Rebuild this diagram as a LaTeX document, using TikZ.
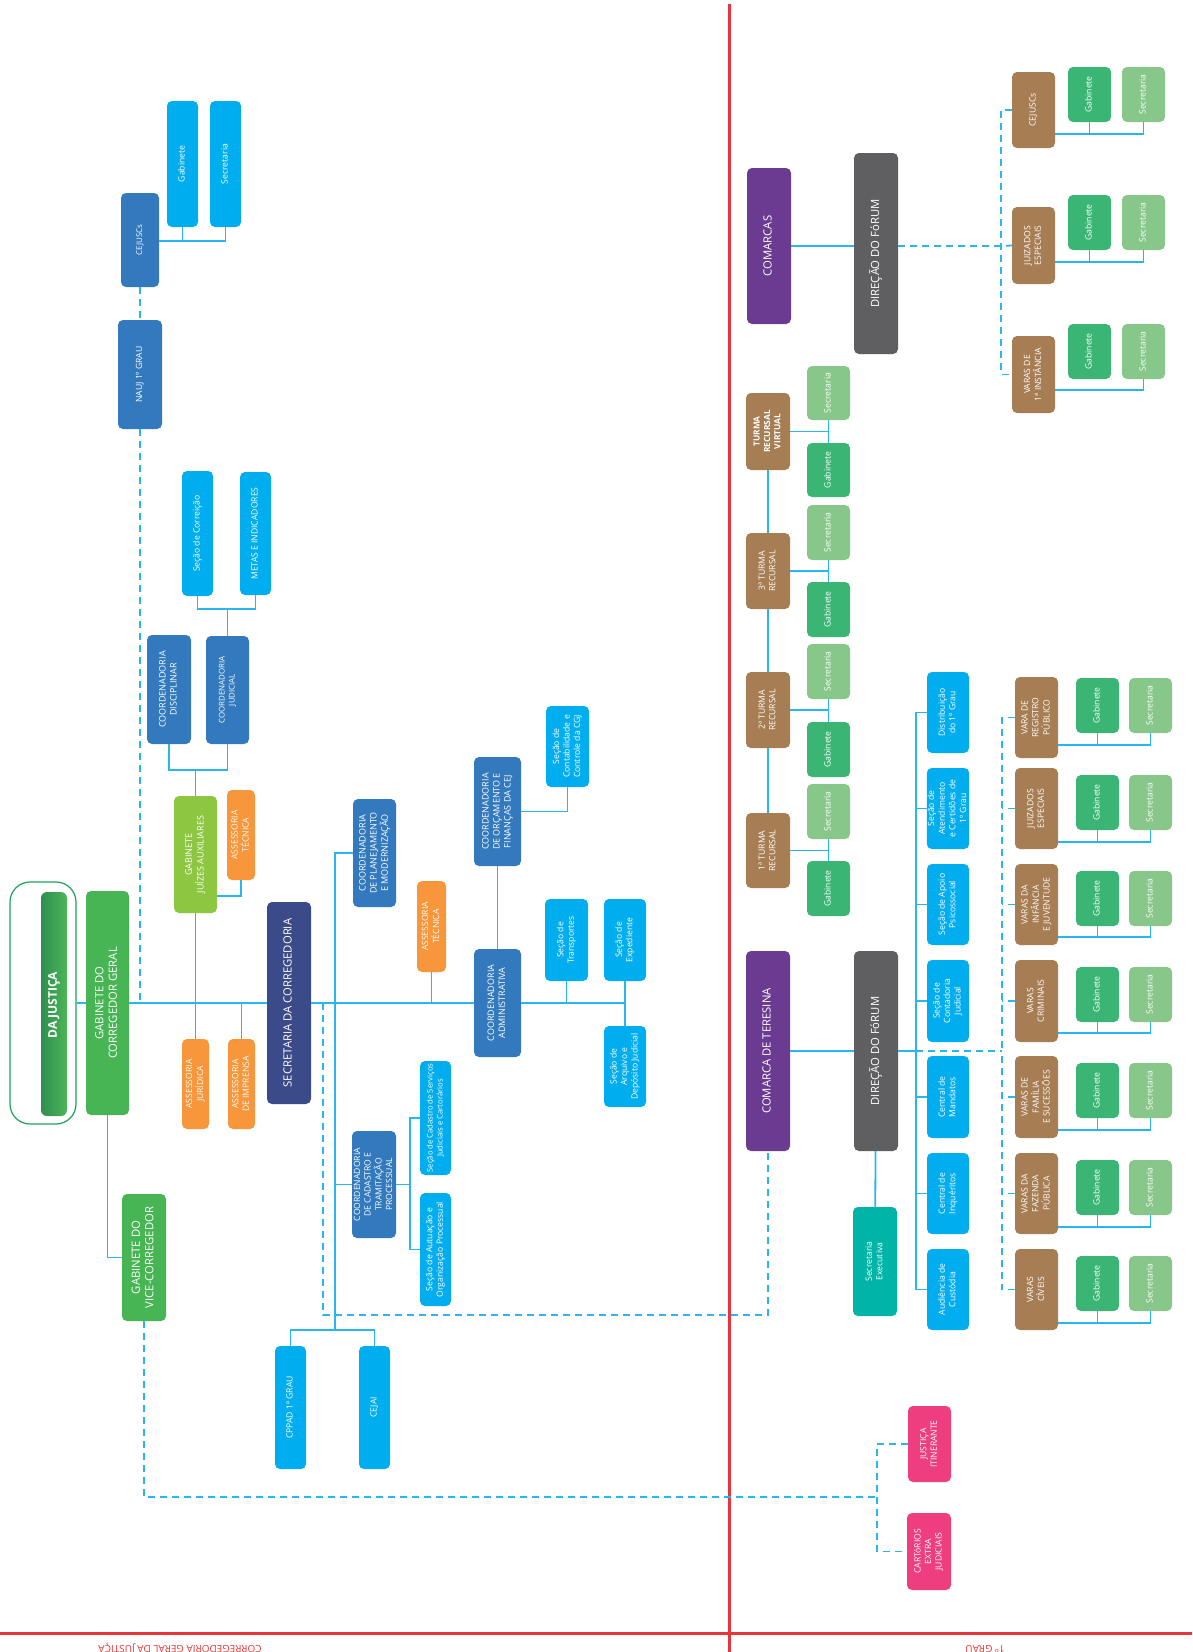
\documentclass[tikz,border=0pt]{standalone}
\usepackage{fontspec}
\setmainfont{Open Sans}
\usepackage{graphicx}
\usetikzlibrary{calc}
\definecolor{cyanc}{HTML}{00AEEF}
\definecolor{dbc}{HTML}{3379BD}
\definecolor{navyc}{HTML}{3B4A89}
\definecolor{gcgc}{HTML}{47B553}
\definecolor{gjac}{HTML}{8DC641}
\definecolor{orgc}{HTML}{F7963A}
\definecolor{purc}{HTML}{6B3B92}
\definecolor{grayc}{HTML}{5F5F61}
\definecolor{brownc}{HTML}{A77D54}
\definecolor{gabc}{HTML}{3BB574}
\definecolor{secc}{HTML}{87C78A}
\definecolor{tealc}{HTML}{00B5A7}
\definecolor{pinkc}{HTML}{EE3E80}
\definecolor{redc}{HTML}{E9343B}
\definecolor{lineb}{HTML}{29B5EE}
\definecolor{djg}{HTML}{1BA35B}
\definecolor{djdark}{HTML}{2E8F4F}
\definecolor{djlight}{HTML}{4DB557}
\tikzset{
 box/.style={rounded corners=5pt, inner sep=0pt, outer sep=0pt, text=white},
 conn/.style={draw=lineb, line width=1.8pt},
 dshline/.style={draw=lineb, line width=1.8pt, dash pattern=on 7pt off 5pt},
 fs/.style={font=\fontsize{7.7}{10}\selectfont},
 f7/.style={font=\fontsize{7.9}{10}\selectfont},
 f8/.style={font=\fontsize{8.6}{10.6}\selectfont},
 f8b/.style={font=\bfseries\fontsize{8.4}{10.4}\selectfont},
 f9/.style={font=\fontsize{9}{11}\selectfont},
 fcct/.style={font=\fontsize{8.6}{10.5}\selectfont},
 f11/.style={font=\fontsize{11.3}{13.5}\selectfont},
}
\newcommand\mybox[7]{\node[box,#6,minimum width={(#4)-(#2)},minimum height={(#5)-(#3)}] (#1) at ({((#2)+(#4))/2},{((#3)+(#5))/2}) {\rotatebox{90}{\begin{tabular}{@{}c@{}}#7\end{tabular}}};}
\newcommand\vgrpbase[9]{%
 \mybox{#1}{#2}{#3}{#2+43}{#3+#4}{fill=brownc,f8}{#9}
 \mybox{#1g}{#5}{#7}{#5+43}{#7+55}{fill=gabc,f8}{Gabinete}
 \mybox{#1s}{#6}{#7}{#6+43}{#7+55}{fill=secc,f8}{Secretaria}
 \coordinate (#1k) at ({#6+21.5},{#8});
 \draw[conn] (#1.east |- #1k) -- (#1k) -- (#1s.south);}
\newcommand\vgrp[9]{\vgrpbase{#1}{#2}{#3}{#4}{#5}{#6}{#7}{#8}{#9}\draw[conn] (#1g.south) -- (#1g.south |- #1k);}
\begin{document}
\begin{tikzpicture}[x=1pt,y=-1pt]
\useasboundingbox (0,0) rectangle (1192,1652);
\fill[white] (0,0) rectangle (1192,1652);

% red frame lines
\draw[redc, line width=3pt] (729,4) -- (729,1652);
\draw[redc, line width=3pt] (0,1633) -- (1192,1633);
\node[rotate=180, anchor=base, text=redc, font=\fontsize{10}{12}\selectfont, inner sep=0pt] (lbl1) at (180,1645) {CORREGEDORIA GERAL DA JUSTIÇA};
\node[rotate=180, anchor=base, text=redc, font=\fontsize{10}{12}\selectfont, inner sep=0pt] (lbl2) at (985,1645) {1º GRAU};

% DA JUSTICA
\node[draw=djg, line width=1.2pt, fill=white, rounded corners=20pt, minimum width=66, minimum height=242, inner sep=0pt] (dj) at (43,1003) {};
\shade[left color=djdark, right color=djlight, rounded corners=6pt] (41,892) rectangle (67,1116);
\node[rotate=90, text=white, font=\bfseries\fontsize{12}{14}\selectfont, inner sep=0pt] (djt) at (54,1005) {DA JUSTIÇA};

% left column boxes
\mybox{gcg}{86}{891}{129}{1115}{fill=gcgc,f11}{GABINETE DO\\CORREGEDOR GERAL}
\mybox{gja}{174}{796}{217}{913}{fill=gjac,f9}{GABINETE\\JUÍZES AUXILIARES}
\mybox{at1}{227}{790}{255}{880}{fill=orgc,f8}{ASSESSORIA\\TÉCNICA}
\mybox{ajur}{182}{1039}{209}{1129}{fill=orgc,f8}{ASSESSORIA\\JURÍDICA}
\mybox{aimp}{228}{1039}{255}{1129}{fill=orgc,f8}{ASSESSORIA\\DE IMPRENSA}
\mybox{sec}{267}{902}{311}{1104}{fill=navyc,f11}{SECRETARIA DA CORREGEDORIA}
\mybox{cdis}{147}{635}{191}{744}{fill=dbc,f9}{COORDENADORIA\\DISCIPLINAR}
\mybox{cjud}{206}{636}{249}{744}{fill=dbc,f7}{COORDENADORIA\\JUDICIAL}
\mybox{scor}{182}{471}{213}{596}{fill=cyanc,f8}{Seção de Correição}
\mybox{metas}{240}{472}{271}{595}{fill=cyanc,f8}{METAS E INDICADORES}
\mybox{nauj}{118}{320}{162}{429}{fill=dbc,f8}{NAUJ 1º GRAU}
\mybox{cejl}{121}{193}{159}{287}{fill=dbc,f7}{CEJUSCs}
\mybox{gabl}{167}{101}{198}{227}{fill=cyanc,f8}{Gabinete}
\mybox{secl}{210}{101}{241}{227}{fill=cyanc,f8}{Secretaria}
\mybox{pl}{353}{799}{396}{907}{fill=dbc,f9}{COORDENADORIA\\DE PLANEJAMENTO\\E MODERNIZAÇÃO}
\mybox{at2}{417}{881}{446}{972}{fill=orgc,f8}{ASSESSORIA\\TÉCNICA}
\mybox{corc}{474}{757}{521}{866}{fill=dbc,f9}{COORDENADORIA\\DE ORÇAMENTO E\\FINANÇAS DA CEJ}
\mybox{scont}{546}{706}{589}{787}{fill=cyanc,f8}{Seção de\\Contabilidade e\\Controle da CGJ}
\mybox{cadm}{474}{949}{521}{1057}{fill=dbc,f9}{COORDENADORIA\\ADMINISTRATIVA}
\mybox{stra}{545}{899}{588}{981}{fill=cyanc,f8}{Seção de\\Transportes}
\mybox{sexp}{604}{899}{646}{981}{fill=cyanc,f8}{Seção de\\Expediente}
\mybox{sarq}{604}{1026}{646}{1107}{fill=cyanc,f8}{Seção de\\Arquivo e\\Depósito Judicial}
\mybox{cct}{352}{1131}{396}{1238}{fill=dbc,fcct}{COORDENADORIA\\DE CADASTRO E\\TRAMITAÇÃO\\PROCESSUAL}
\mybox{scad}{420}{1061}{451}{1175}{fill=cyanc,fs}{Seção de Cadastro de Serviços\\Judiciais e Cartorários}
\mybox{saut}{420}{1193}{451}{1306}{fill=cyanc,f8}{Seção de Autuação e\\Organização Processual}
\mybox{cppad}{275}{1346}{306}{1469}{fill=cyanc,f8}{CPPAD 1º GRAU}
\mybox{cejai}{359}{1346}{390}{1469}{fill=cyanc,f8}{CEJAI}
\mybox{gvc}{122}{1194}{166}{1321}{fill=gcgc,f11}{GABINETE DO\\VICE-CORREGEDOR}
\mybox{jit}{908}{1406}{951}{1482}{fill=pinkc,f8}{JUSTIÇA\\ITINERANTE}
\mybox{cart}{907}{1513}{951}{1590}{fill=pinkc,f8}{CARTóRIOS\\EXTRA\\JUDICIAIS}

% right top
\mybox{com}{747}{168}{791}{324}{fill=purc,f11}{COMARCAS}
\mybox{dir1}{854}{153}{898}{354}{fill=grayc,f11}{DIREÇÃO DO FóRUM}
\vgrp{cejr}{1012}{72}{76}{1068}{1122}{67}{134}{CEJUSCs}
\vgrp{jer}{1012}{207}{77}{1068}{1122}{195}{262}{JUIZADOS\\ESPECIAIS}
\vgrpbase{v1i}{1012}{336}{77}{1068}{1122}{324}{390}{VARAS DE\\1ª INSTÂNCIA}

% turmas
\mybox{tv}{746}{393}{790}{470}{fill=brownc,f8b}{TURMA\\RECURSAL\\VIRTUAL}
\mybox{tvs}{807}{366}{850}{420}{fill=secc,f8}{Secretaria}
\mybox{tvg}{807}{443}{850}{497}{fill=gabc,f8}{Gabinete}
\mybox{tt3}{746}{533}{790}{609}{fill=brownc,f8}{3ª TURMA\\RECURSAL}
\mybox{tt3s}{807}{505}{850}{560}{fill=secc,f8}{Secretaria}
\mybox{tt3g}{807}{582}{850}{637}{fill=gabc,f8}{Gabinete}
\mybox{tt2}{746}{672}{790}{748}{fill=brownc,f8}{2ª TURMA\\RECURSAL}
\mybox{tt2s}{807}{644}{850}{699}{fill=secc,f8}{Secretaria}
\mybox{tt2g}{807}{722}{850}{777}{fill=gabc,f8}{Gabinete}
\mybox{tt1}{746}{813}{790}{888}{fill=brownc,f8}{1ª TURMA\\RECURSAL}
\mybox{tt1s}{807}{784}{850}{839}{fill=secc,f8}{Secretaria}
\mybox{tt1g}{807}{861}{850}{916}{fill=gabc,f8}{Gabinete}

% right bottom
\mybox{cter}{746}{951}{790}{1151}{fill=purc,f11}{COMARCA DE TERESINA}
\mybox{dir2}{854}{951}{898}{1151}{fill=grayc,f11}{DIREÇÃO DO FóRUM}
\mybox{sex}{853}{1207}{897}{1316}{fill=tealc,f8}{Secretaria\\Executiva}
\mybox{dist}{927}{672}{969}{753}{fill=cyanc,f8}{Distribuição\\do 1º Grau}
\mybox{satd}{927}{768}{969}{849}{fill=cyanc,f8}{Seção de\\Atendimento\\e Certidões de\\1º Grau}
\mybox{sapo}{927}{864}{969}{945}{fill=cyanc,f8}{Seção de Apoio\\Psicossocial}
\mybox{scon}{927}{960}{969}{1042}{fill=cyanc,f8}{Seção de\\Contadoria\\Judicial}
\mybox{cman}{927}{1056}{969}{1138}{fill=cyanc,f8}{Central de\\Mandatos}
\mybox{cinq}{927}{1153}{969}{1234}{fill=cyanc,f8}{Central de\\Inquéritos}
\mybox{aud}{927}{1249}{969}{1330}{fill=cyanc,f8}{Audiência de\\Custódia}
\vgrp{vreg}{1015}{677}{81}{1076}{1129}{678}{745}{VARA DE\\REGISTRO\\PÚBLICO}
\vgrp{vjes}{1015}{768}{81}{1076}{1129}{775}{842}{JUIZADOS\\ESPECIAIS}
\vgrp{vinf}{1015}{864}{81}{1076}{1129}{871}{937}{VARAS DA\\INFÂNCIA\\E JUVENTUDE}
\vgrp{vcri}{1015}{960}{82}{1076}{1129}{967}{1033}{VARAS\\CRIMINAIS}
\vgrp{vfam}{1015}{1056}{82}{1076}{1129}{1063}{1130}{VARAS DE\\FAMÍLIA\\E SUCESSÕES}
\vgrp{vfaz}{1015}{1153}{81}{1076}{1129}{1160}{1227}{VARAS DA\\FAZENDA\\PÚBLICA}
\vgrp{vciv}{1015}{1249}{81}{1076}{1129}{1256}{1323}{VARAS\\CÍVEIS}

% ---------- connectors, left ----------
\draw[conn] (dj) -- (gcg);
\draw[conn] (gcg) -- (sec);
\draw[conn] (sec) -- (cadm);
\draw[conn] (gja) -- (ajur);
\draw[conn] ([yshift=17pt]gja.south east) -| (at1.south);
\draw[conn] (aimp.north) -- (aimp.north |- gcg.east);
\coordinate (bj) at (195.5,770);
\draw[conn] (cdis.south) |- (bj) -| (cjud.south);
\draw[conn] (bj) -- (gja.north);
\coordinate (bc) at (227.5,609);
\draw[conn] (scor.south) |- (bc) -| (metas.south);
\draw[conn] (bc) -- (cjud.north);
\draw[dshline] (cejl) -- (nauj);
\draw[dshline] (nauj.south) -- (nauj.south |- gcg.east);
\coordinate (k1) at (225.5,241);
\draw[conn] (cejl.east |- k1) -- (k1) -- (secl.south);
\draw[conn] (gabl.south) -- (gabl.south |- k1);
\coordinate (vA) at (335,853);
\coordinate (vB) at (335,1330);
\draw[conn] (pl.west) -- (vA) -- (vB);
\draw[conn] (cppad.north) |- (vB) -| (cejai.north);
\draw[conn] (cct.west) -- (cct.west -| vA);
\coordinate (k2) at (410,1184.5);
\draw[conn] (cct.east) -- (k2);
\draw[conn] (scad.west) -| (k2) |- (saut.west);
\draw[conn] (at2.south) -- (at2.south |- sec.east);
\draw[conn] (corc) -- (cadm);
\draw[conn] (corc.east) -| (scont.south);
\coordinate (k3) at (625,1003);
\draw[conn] (cadm.east) -- (k3) -- (sarq.north);
\draw[conn] (sexp.south) -- (k3);
\draw[conn] (stra.south) -- (stra.south |- k3);
\coordinate (dA) at (323,1003);
\coordinate (dB) at (323,1315);
\draw[dshline] (dA) -- (dB) -| (cter.south);
\draw[conn] (gcg.south) |- (gvc.west);
\coordinate (k4) at (877,1497);
\draw[dshline] (gvc.south) |- (k4);
\coordinate (k5) at (877,1444);
\coordinate (k6) at (877,1551.5);
\draw[dshline] (jit.west) -- (k5) -- (k6) -- (cart.west);

% ---------- connectors, right ----------
\draw[conn] (com.east) -- (com.east -| dir1.west);
\coordinate (k7) at (1001,246);
\draw[dshline] (dir1.east |- k7) -- (k7) -- (jer.west);
\coordinate (k8) at (1001,110);
\coordinate (k9) at (1001,374.5);
\draw[dshline] (cejr.west) -- (k8) -- (k9) -- (v1i.west);

\draw[conn] (tv) -- (tt3);
\draw[conn] (tt3) -- (tt2);
\draw[conn] (tt2) -- (tt1);
\draw[conn] (tv.east) -- (tv.east -| tvg.north);
\draw[conn] (tvs.south) -- (tvg.north);
\draw[conn] (tt3.east) -- (tt3.east -| tt3g.north);
\draw[conn] (tt3s.south) -- (tt3g.north);
\draw[conn] (tt2.east) -- (tt2.east -| tt2g.north);
\draw[conn] (tt2s.south) -- (tt2g.north);
\draw[conn] (tt1.east) -- (tt1.east -| tt1g.north);
\draw[conn] (tt1s.south) -- (tt1g.north);

\draw[conn] (cter) -- (dir2);
\draw[conn] (dir2) -- (sex);
\coordinate (m1) at (916,1051);
\coordinate (m2) at (1002,1051);
\draw[conn] (dir2.east) -- (m1);
\draw[conn] (dist.west) -| (m1);
\draw[conn] (aud.west) -| (m1);
\foreach \n in {satd,sapo,scon,cman,cinq} \draw[conn] (\n.west) -- (\n.west -| m1);
\draw[dshline] (m1) -- (m2);
\draw[dshline] (vreg.west) -| (m2);
\draw[dshline] (vciv.west) -| (m2);
\foreach \n in {vjes,vinf,vcri,vfam,vfaz} \draw[dshline] (\n.west) -- (\n.west -| m2);
\end{tikzpicture}
\end{document}
